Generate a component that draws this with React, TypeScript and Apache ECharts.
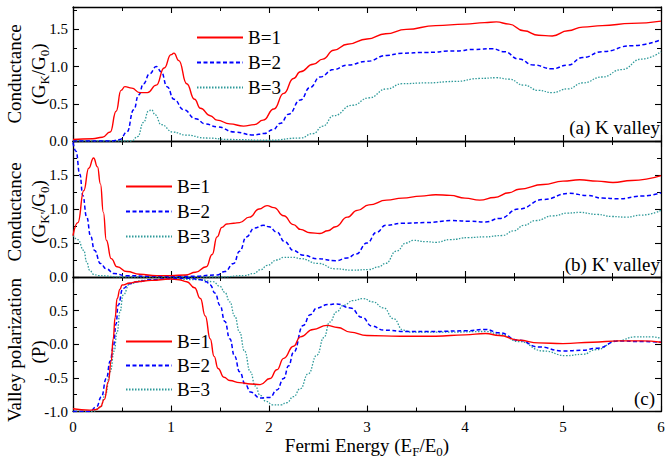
import * as echarts from 'echarts';
import { useEffect, useRef } from 'react';

type Pt = [number, number];

// x axis (Fermi energy) and tick labels
const xTicks = [0, 1, 2, 3, 4, 5, 6];
const condTicks = [0, 0.5, 1, 1.5];
const polTicks = [-1, -0.5, 0, 0.5];
const legendNames = ['B=1', 'B=2', 'B=3'];

// (a) K valley conductance
const kB1: Pt[] = [[0, 0.02], [0.2, 0.03], [0.3, 0.05], [0.38, 0.12], [0.44, 0.4], [0.49, 0.68], [0.53, 0.73], [0.6, 0.71], [0.68, 0.65], [0.76, 0.65], [0.85, 0.75], [0.93, 0.98], [1.0, 1.16], [1.03, 1.18], [1.08, 1.08], [1.16, 0.77], [1.24, 0.56], [1.3, 0.44], [1.4, 0.34], [1.47, 0.28], [1.6, 0.23], [1.74, 0.2], [1.85, 0.22], [1.94, 0.28], [2.05, 0.43], [2.15, 0.64], [2.25, 0.84], [2.32, 0.93], [2.45, 1.03], [2.55, 1.1], [2.66, 1.22], [2.8, 1.3], [3.0, 1.37], [3.19, 1.44], [3.4, 1.5], [3.7, 1.55], [4.0, 1.57], [4.2, 1.59], [4.32, 1.6], [4.45, 1.57], [4.6, 1.48], [4.75, 1.42], [4.89, 1.41], [5.05, 1.48], [5.2, 1.53], [5.4, 1.55], [5.7, 1.58], [6.0, 1.61]];
const kB2: Pt[] = [[0, 0], [0.4, 0.0], [0.48, 0.02], [0.55, 0.12], [0.62, 0.42], [0.67, 0.62], [0.72, 0.77], [0.78, 0.9], [0.85, 1.0], [0.9, 0.93], [0.96, 0.73], [1.03, 0.56], [1.13, 0.42], [1.25, 0.3], [1.35, 0.23], [1.47, 0.19], [1.65, 0.12], [1.84, 0.08], [1.95, 0.1], [2.04, 0.15], [2.12, 0.24], [2.2, 0.36], [2.32, 0.55], [2.42, 0.72], [2.52, 0.86], [2.66, 0.96], [2.8, 1.02], [3.0, 1.07], [3.2, 1.15], [3.36, 1.18], [3.6, 1.19], [3.9, 1.21], [4.1, 1.23], [4.28, 1.24], [4.4, 1.2], [4.55, 1.1], [4.7, 1.02], [4.89, 0.97], [5.05, 1.02], [5.2, 1.12], [5.4, 1.2], [5.7, 1.28], [6.0, 1.36]];
const kB3: Pt[] = [[0, 0], [0.6, 0], [0.66, 0.06], [0.72, 0.25], [0.77, 0.4], [0.8, 0.42], [0.84, 0.35], [0.9, 0.22], [1.02, 0.12], [1.15, 0.08], [1.36, 0.04], [1.6, 0.02], [2.0, 0.01], [2.32, 0.04], [2.45, 0.1], [2.55, 0.2], [2.66, 0.34], [2.85, 0.48], [3.02, 0.58], [3.2, 0.7], [3.36, 0.77], [3.6, 0.78], [3.9, 0.8], [4.15, 0.84], [4.32, 0.85], [4.45, 0.83], [4.6, 0.75], [4.75, 0.68], [4.89, 0.65], [5.05, 0.7], [5.2, 0.78], [5.4, 0.86], [5.6, 0.96], [5.8, 1.1], [6.0, 1.2]];

// (b) K' valley conductance
const kpB1: Pt[] = [[0, 0.61], [0.05, 0.8], [0.11, 1.27], [0.16, 1.6], [0.21, 1.75], [0.25, 1.62], [0.28, 1.37], [0.31, 0.95], [0.34, 0.54], [0.39, 0.27], [0.45, 0.15], [0.55, 0.08], [0.68, 0.04], [0.85, 0.02], [1.0, 0.02], [1.15, 0.03], [1.25, 0.07], [1.36, 0.15], [1.42, 0.33], [1.47, 0.59], [1.52, 0.73], [1.57, 0.78], [1.64, 0.79], [1.7, 0.8], [1.8, 0.88], [1.9, 1.0], [1.98, 1.05], [2.05, 1.02], [2.15, 0.9], [2.25, 0.77], [2.32, 0.7], [2.42, 0.65], [2.52, 0.64], [2.6, 0.68], [2.68, 0.74], [2.8, 0.88], [2.9, 0.98], [3.02, 1.06], [3.2, 1.13], [3.36, 1.16], [3.55, 1.19], [3.7, 1.21], [3.85, 1.2], [4.0, 1.16], [4.15, 1.13], [4.3, 1.17], [4.45, 1.24], [4.55, 1.29], [4.8, 1.36], [5.0, 1.41], [5.17, 1.43], [5.35, 1.41], [5.51, 1.39], [5.7, 1.42], [6.0, 1.49]];
const kpB2: Pt[] = [[0, 1.98], [0.03, 1.85], [0.07, 1.51], [0.1, 1.2], [0.14, 0.88], [0.18, 0.6], [0.22, 0.39], [0.28, 0.2], [0.34, 0.12], [0.42, 0.05], [0.54, 0.02], [0.8, 0.01], [1.2, 0.01], [1.47, 0.03], [1.55, 0.08], [1.64, 0.2], [1.7, 0.38], [1.77, 0.59], [1.85, 0.72], [1.94, 0.76], [2.0, 0.74], [2.08, 0.66], [2.16, 0.52], [2.25, 0.39], [2.35, 0.32], [2.49, 0.27], [2.68, 0.24], [2.8, 0.28], [2.89, 0.34], [3.0, 0.5], [3.1, 0.66], [3.19, 0.76], [3.36, 0.79], [3.6, 0.8], [3.87, 0.83], [4.05, 0.82], [4.21, 0.81], [4.35, 0.86], [4.55, 1.0], [4.8, 1.14], [5.06, 1.23], [5.25, 1.2], [5.4, 1.16], [5.57, 1.15], [5.8, 1.19], [6.0, 1.24]];
const kpB3: Pt[] = [[0, 0.61], [0.05, 0.55], [0.11, 0.39], [0.14, 0.22], [0.17, 0.1], [0.21, 0.04], [0.26, 0.02], [0.5, 0.0], [1.5, 0.0], [1.75, 0.02], [1.84, 0.05], [1.92, 0.11], [1.98, 0.17], [2.08, 0.25], [2.15, 0.29], [2.25, 0.29], [2.32, 0.27], [2.5, 0.2], [2.68, 0.12], [2.85, 0.1], [3.02, 0.11], [3.12, 0.15], [3.19, 0.2], [3.3, 0.38], [3.4, 0.5], [3.47, 0.54], [3.6, 0.52], [3.7, 0.51], [3.85, 0.55], [4.04, 0.58], [4.2, 0.59], [4.38, 0.61], [4.5, 0.68], [4.6, 0.76], [4.72, 0.83], [4.9, 0.9], [5.05, 0.94], [5.17, 0.95], [5.35, 0.92], [5.5, 0.89], [5.64, 0.88], [5.8, 0.91], [6.0, 0.98]];

// (c) valley polarization
const pB1: Pt[] = [[0, -0.96], [0.17, -0.98], [0.24, -0.97], [0.28, -0.93], [0.32, -0.82], [0.36, -0.56], [0.39, -0.25], [0.41, 0.08], [0.43, 0.4], [0.45, 0.68], [0.48, 0.82], [0.5, 0.88], [0.58, 0.91], [0.65, 0.93], [0.8, 0.95], [0.99, 0.97], [1.08, 0.96], [1.16, 0.93], [1.24, 0.84], [1.3, 0.68], [1.35, 0.42], [1.4, 0.08], [1.44, -0.18], [1.48, -0.36], [1.54, -0.49], [1.6, -0.54], [1.7, -0.57], [1.81, -0.59], [1.91, -0.6], [2.01, -0.51], [2.08, -0.38], [2.15, -0.21], [2.25, -0.03], [2.32, 0.11], [2.45, 0.22], [2.59, 0.28], [2.7, 0.25], [2.83, 0.18], [3.0, 0.13], [3.34, 0.12], [3.7, 0.12], [4.0, 0.14], [4.21, 0.16], [4.35, 0.13], [4.55, 0.06], [4.75, 0.02], [5.0, 0.01], [5.3, 0.03], [5.57, 0.05], [5.8, 0.05], [6.0, 0.03]];
const pB2: Pt[] = [[0, -1.0], [0.17, -1.0], [0.24, -0.93], [0.29, -0.78], [0.34, -0.51], [0.38, -0.25], [0.41, -0.05], [0.44, 0.3], [0.46, 0.58], [0.51, 0.83], [0.58, 0.9], [0.65, 0.93], [0.8, 0.96], [1.0, 0.98], [1.2, 0.98], [1.3, 0.96], [1.36, 0.93], [1.4, 0.88], [1.45, 0.76], [1.5, 0.58], [1.55, 0.34], [1.6, 0.08], [1.65, -0.18], [1.7, -0.41], [1.76, -0.6], [1.81, -0.71], [1.91, -0.8], [2.01, -0.79], [2.08, -0.68], [2.15, -0.51], [2.2, -0.32], [2.25, -0.12], [2.35, 0.28], [2.42, 0.44], [2.49, 0.54], [2.6, 0.59], [2.69, 0.6], [2.83, 0.54], [2.95, 0.4], [3.05, 0.27], [3.17, 0.21], [3.4, 0.19], [3.7, 0.19], [4.0, 0.2], [4.21, 0.22], [4.35, 0.17], [4.55, 0.06], [4.75, -0.04], [5.0, -0.1], [5.2, -0.09], [5.34, -0.06], [5.57, 0.05], [5.8, 0.04], [6.0, 0.03]];
const pB3: Pt[] = [[0, -1.0], [0.2, -1.0], [0.28, -0.94], [0.33, -0.75], [0.38, -0.41], [0.42, -0.1], [0.45, 0.18], [0.48, 0.48], [0.51, 0.73], [0.58, 0.9], [0.7, 0.95], [1.0, 0.97], [1.3, 0.96], [1.43, 0.93], [1.5, 0.86], [1.55, 0.77], [1.6, 0.63], [1.65, 0.42], [1.7, 0.18], [1.75, -0.1], [1.81, -0.41], [1.86, -0.62], [1.91, -0.76], [1.97, -0.85], [2.04, -0.9], [2.12, -0.9], [2.18, -0.87], [2.25, -0.78], [2.32, -0.66], [2.4, -0.44], [2.49, -0.16], [2.56, 0.1], [2.62, 0.33], [2.69, 0.48], [2.76, 0.58], [2.86, 0.65], [2.96, 0.68], [3.06, 0.63], [3.17, 0.54], [3.27, 0.38], [3.37, 0.21], [3.45, 0.18], [3.85, 0.18], [4.21, 0.19], [4.35, 0.15], [4.55, 0.04], [4.8, -0.1], [5.03, -0.17], [5.2, -0.15], [5.34, -0.08], [5.55, 0.05], [5.74, 0.11], [5.9, 0.11], [6.0, 0.09]];

const SERIF = 'Liberation Serif';
const AXIS_COLOR = '#000';

const lineStyles = [
  { color: '#ff0000', type: 'solid', width: 1.4 },
  { color: '#0000ff', type: [4, 2.5], width: 1.5 },
  { color: '#2f9a9a', type: [1.5, 1.5], width: 1.3 },
];

const subRich = {
  s: { fontSize: 13, fontFamily: SERIF, verticalAlign: 'bottom', padding: [12, 0, 0, 0] },
};

const App = () => {
  const chartRef = useRef<HTMLDivElement>(null);

  useEffect(() => {
    if (!chartRef.current) return;
    const chart = echarts.init(chartRef.current, undefined, { renderer: 'svg' });

    const grids = [
      { left: 73, right: 11, top: 7, height: 134 },
      { left: 73, right: 11, top: 141, height: 136 },
      { left: 73, right: 11, top: 277, height: 134.5 },
    ];
    const yRanges = [
      { min: 0, max: 1.8, ticks: condTicks },
      { min: 0, max: 2, ticks: condTicks },
      { min: -1, max: 1, ticks: polTicks },
    ];

    const tickCommon = {
      axisLine: { onZero: false, lineStyle: { color: AXIS_COLOR, width: 1.3 } },
      axisTick: { inside: true, length: 6, lineStyle: { color: AXIS_COLOR, width: 1.1 } },
      minorTick: { show: true, splitNumber: 2, length: 4, lineStyle: { color: AXIS_COLOR, width: 1 } },
      splitLine: { show: false },
    };

    const xAxis: any[] = [];
    const yAxis: any[] = [];
    grids.forEach((_, i) => {
      ['bottom', 'top'].forEach((pos) => {
        xAxis.push({
          ...tickCommon,
          type: 'value',
          gridIndex: i,
          position: pos,
          min: 0,
          max: 6,
          interval: 1,
          axisLabel: {
            show: pos === 'bottom' && i === 2,
            margin: 8,
            fontSize: 15,
            fontFamily: SERIF,
            color: AXIS_COLOR,
            formatter: (v: number) => (xTicks.includes(v) ? String(v) : ''),
          },
        });
      });
      ['left', 'right'].forEach((pos) => {
        const r = yRanges[i];
        yAxis.push({
          ...tickCommon,
          type: 'value',
          gridIndex: i,
          position: pos,
          min: r.min,
          max: r.max,
          interval: 0.5,
          axisLabel: {
            show: pos === 'left',
            margin: 5,
            fontSize: 15,
            fontFamily: SERIF,
            color: AXIS_COLOR,
            formatter: (v: number) => (r.ticks.includes(v) ? v.toFixed(1) : ''),
          },
        });
      });
    });

    const panels = [
      [kB1, kB2, kB3],
      [kpB1, kpB2, kpB3],
      [pB1, pB2, pB3],
    ];
    const series: any[] = [];
    panels.forEach((curves, i) => {
      curves.forEach((data, j) => {
        series.push({
          type: 'line',
          name: legendNames[j],
          xAxisIndex: 2 * i,
          yAxisIndex: 2 * i,
          data,
          smooth: 0.5,
          smoothMonotone: 'x',
          symbol: 'none',
          lineStyle: lineStyles[j],
          itemStyle: { color: lineStyles[j].color },
          z: 3 - j,
        });
      });
    });

    const legendBase = {
      data: legendNames,
      orient: 'vertical',
      itemWidth: 46,
      itemHeight: 20,
      itemGap: 6,
      selectedMode: false,
      itemStyle: { opacity: 0 },
      textStyle: { fontSize: 19, fontFamily: SERIF, color: AXIS_COLOR },
    };

    const text = (x: number, y: number, t: string, opts: any = {}) => ({
      type: 'text',
      x,
      y,
      rotation: opts.rotation ?? 0,
      style: {
        text: t,
        fontSize: 19,
        fontFamily: SERIF,
        fill: AXIS_COLOR,
        textAlign: opts.align ?? 'center',
        textVerticalAlign: 'middle',
        rich: subRich,
      },
    });
    const R = Math.PI / 2;

    chart.setOption({
      animation: false,
      grid: grids,
      xAxis,
      yAxis,
      series,
      legend: [
        { ...legendBase, left: 191, top: 23 },
        { ...legendBase, left: 120, top: 172 },
        { ...legendBase, left: 120, top: 327, itemGap: 5 },
      ],
      graphic: [
        text(14, 74, 'Conductance', { rotation: R }),
        text(38, 74, '(G{s|K}/G{s|0})', { rotation: R }),
        text(14, 212, 'Conductance', { rotation: R }),
        text(38, 212, "(G{s|K'}/G{s|0})", { rotation: R }),
        text(14, 350, 'Valley polarization', { rotation: R }),
        text(38, 352, '(P)', { rotation: R }),
        text(367, 445, 'Fermi Energy (E{s|F}/E{s|0})'),
        text(660, 127, '(a) K valley', { align: 'right' }),
        text(660, 264, "(b) K' valley", { align: 'right' }),
        text(655, 398, '(c)', { align: 'right' }),
      ],
    });

    return () => {
      chart.dispose();
    };
  }, []);

  return (
    <div
      ref={chartRef}
      style={{ position: 'fixed', left: 0, top: 0, width: 672, height: 462, background: '#fff' }}
    />
  );
};

export default App;
